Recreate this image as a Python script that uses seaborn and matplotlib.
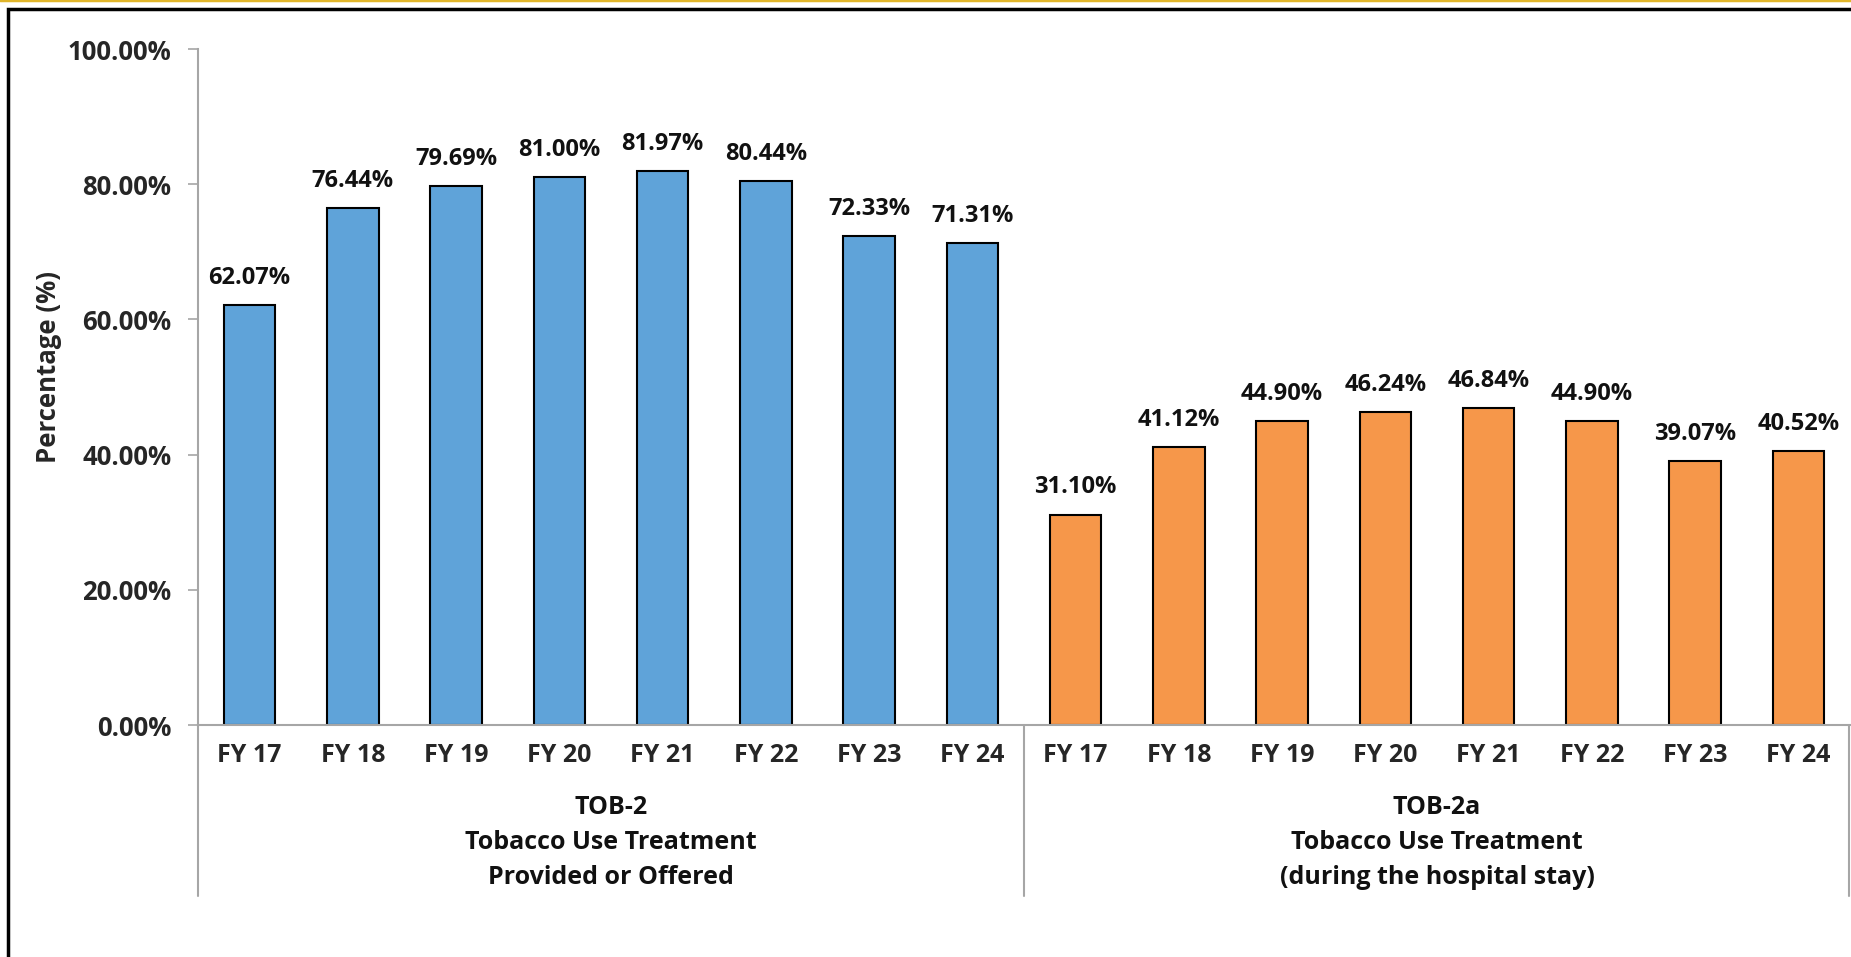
import matplotlib
matplotlib.use("Agg")
import matplotlib.pyplot as plt
import seaborn as sns
import pandas as pd
from matplotlib.lines import Line2D
from matplotlib.patches import Rectangle

years = ["FY 17", "FY 18", "FY 19", "FY 20", "FY 21", "FY 22", "FY 23", "FY 24"]
tob2 = [62.07, 76.44, 79.69, 81.00, 81.97, 80.44, 72.33, 71.31]
tob2a = [31.10, 41.12, 44.90, 46.24, 46.84, 44.90, 39.07, 40.52]
groups = ["TOB-2", "TOB-2a"]
group_labels = ["TOB-2\nTobacco Use Treatment\nProvided or Offered",
                "TOB-2a\nTobacco Use Treatment\n(during the hospital stay)"]
y_ticks = [0, 20, 40, 60, 80, 100]
colors = ["#5FA3D9", "#F6974A"]

rows = []
for g, vals in zip(groups, [tob2, tob2a]):
    for y, v in zip(years, vals):
        rows.append({"key": f"{g}|{y}", "group": g, "year": y, "value": v})
df = pd.DataFrame(rows)

sns.set_theme(style="white")
plt.rcParams["font.family"] = ["Open Sans", "DejaVu Sans"]
plt.rcParams["font.weight"] = "bold"

fig = plt.figure(figsize=(18.51, 9.57), dpi=100)
ax = fig.add_axes([198/1851, 232/957, 1652/1851, 676/957])

sns.barplot(data=df, x="key", y="value", hue="group", order=df["key"].tolist(),
            palette=colors, saturation=1, dodge=False, width=0.5, edgecolor="black",
            linewidth=1.5, ax=ax, legend=False)

for cont in ax.containers:
    ax.bar_label(cont, fmt="%.2f%%", padding=11, fontsize=17, fontweight="bold",
                 color="#111111")

ax.set_ylim(0, 100)
ax.set_xlim(-0.5, len(df) - 0.5)
ax.set_yticks(y_ticks)
ax.set_yticklabels([f"{t:.2f}%" for t in y_ticks], fontsize=18.5, fontweight="bold")
ax.set_xticks(range(len(df)))
ax.set_xticklabels(df["year"].tolist(), fontsize=18, fontweight="bold")
ax.tick_params(axis="y", length=7, width=1.2, color="#A6A6A6", pad=12, left=True)
ax.tick_params(axis="x", length=0, pad=13)
ax.set_xlabel("")
ax.set_ylabel("Percentage (%)", fontsize=18.5, fontweight="bold")
ax.yaxis.set_label_coords(-0.0825, 0.53)

for s in ["top", "right"]:
    ax.spines[s].set_visible(False)
for s in ["left", "bottom"]:
    ax.spines[s].set_color("#A6A6A6")
    ax.spines[s].set_linewidth(1.5)

# multi-level category separators
for xf in [0.0, 0.5, 0.9995]:
    ax.add_line(Line2D([xf, xf], [0, -0.253], transform=ax.transAxes,
                       color="#A6A6A6", lw=1.5, clip_on=False))

# group labels
centers = [3.5, 11.5]
for c, lab in zip(centers, group_labels):
    for i, line in enumerate(lab.split("\n")):
        ax.text(c, -0.122 - i * 0.0515, line, transform=ax.get_xaxis_transform(),
                ha="center", va="center", fontsize=18, fontweight="bold", color="#111111")

# outer frame and gold top line
fig.patches.append(Rectangle((8/1851, -0.1), 1.2, (957 - 9)/957 + 0.1,
                             transform=fig.transFigure, fill=False,
                             edgecolor="black", lw=2.5))
fig.lines.append(Line2D([0, 1], [0.9995, 0.9995], transform=fig.transFigure,
                        color="#E0B52A", lw=2.5))

fig.savefig("out.png", dpi=100)
